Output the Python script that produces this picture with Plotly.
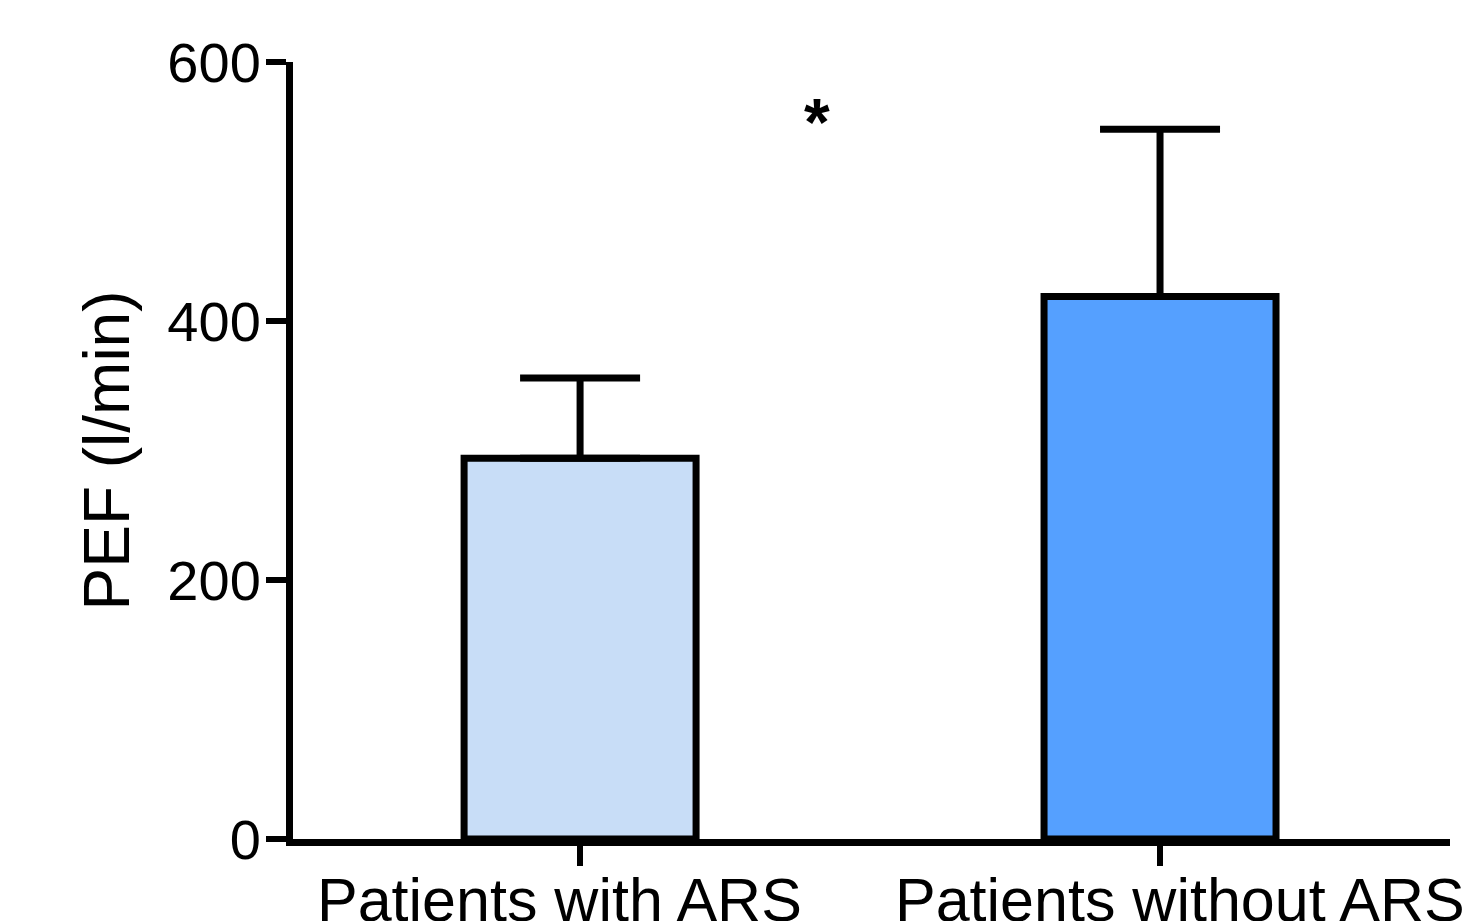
import plotly.graph_objects as go

categories = ["Patients with ARS", "Patients without ARS"]
pef_mean = [294, 419]
pef_err = [62, 129]
bar_colors = ["#C8DDF7", "#55A0FF"]
y_ticks = [0, 200, 400, 600]
label_shift_px = [-21, 20]

FONT = "Liberation Sans, Arial, sans-serif"

fig = go.Figure()
fig.add_trace(go.Bar(
    x=[0, 1],
    y=pef_mean,
    width=0.4,
    marker=dict(color=bar_colors, line=dict(color="black", width=7)),
    error_y=dict(type="data", array=pef_err, arrayminus=[0, 0], symmetric=False,
                 color="black", thickness=7, width=60),
    showlegend=False,
))

fig.add_annotation(x=0.408, y=554, text="<b>*</b>", showarrow=False,
                   font=dict(family=FONT, size=66, color="black"),
                   xanchor="center", yanchor="middle")

for i, (cat, sh) in enumerate(zip(categories, label_shift_px)):
    fig.add_annotation(x=i, xref="x", y=0, yref="paper", text=cat, showarrow=False,
                       font=dict(family=FONT, size=61, color="black"),
                       xanchor="center", yanchor="top", xshift=sh, yshift=-25)

fig.update_layout(
    width=1475, height=921,
    margin=dict(l=285, r=33, t=54, b=90, autoexpand=False),
    paper_bgcolor="white", plot_bgcolor="white",
    font=dict(family=FONT, color="black"),
    xaxis=dict(
        range=[-0.495, 1.5], tickvals=[0, 1], ticktext=categories, showticklabels=False,
        showgrid=False, zeroline=False, showline=True, linecolor="black", linewidth=7,
        ticks="outside", ticklen=20, tickwidth=6, tickcolor="black",
    ),
    yaxis=dict(
        range=[0, 600], tickvals=y_ticks, ticktext=[str(v) for v in y_ticks],
        showgrid=False, zeroline=False, showline=True, linecolor="black", linewidth=7,
        ticks="outside", ticklen=20, tickwidth=6, tickcolor="black",
        ticklabelstandoff=-6,
        tickfont=dict(family=FONT, size=56, color="black"),
        title=dict(text="PEF (l/min)", font=dict(family=FONT, size=64, color="black"), standoff=19),
    ),
)

fig.write_html("out.html")
